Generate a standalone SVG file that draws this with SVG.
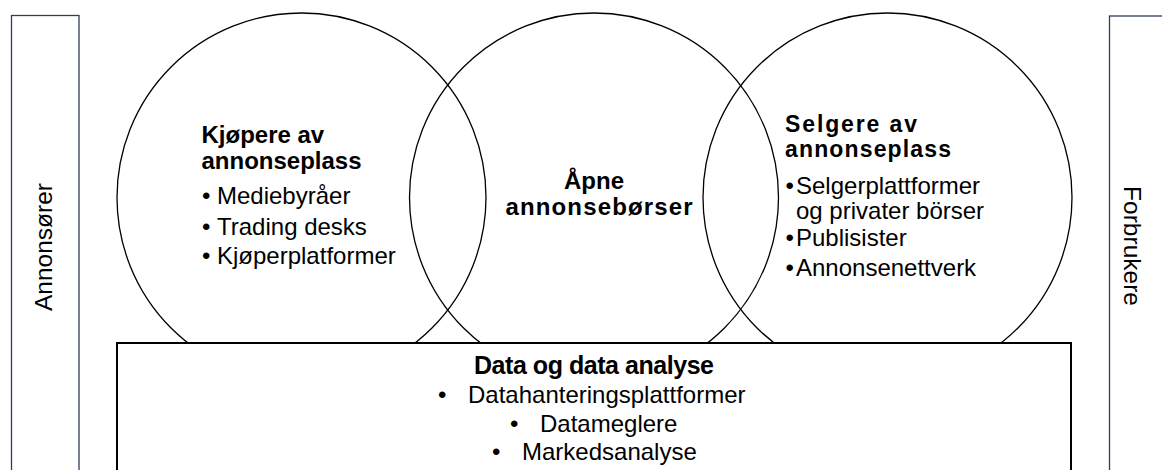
<svg xmlns="http://www.w3.org/2000/svg" width="1162" height="470" viewBox="0 0 1162 470">
<style>
text{font-family:"Liberation Sans",Arial,sans-serif;fill:#000}
.side{fill:#fff;stroke:#2f3d5c;stroke-width:1.3}
.circ{fill:none;stroke:#000;stroke-width:1.3}
.box{fill:#fff;stroke:#000;stroke-width:2}
.t{font-weight:bold;font-size:24px}
.r{font-weight:bold;font-size:23px}
.i{font-size:24px}
.s{font-size:24.5px}
</style>
<rect width="1162" height="470" fill="#fff"/>
<g id="annonsorer">
<rect class="side" x="11.5" y="15.5" width="67.5" height="470"/>
<text class="s" text-anchor="middle" transform="translate(52,247) rotate(-90)">Annonsører</text>
</g>
<g id="forbrukere">
<rect class="side" x="1109.5" y="16" width="80" height="470"/>
<text class="s" text-anchor="middle" transform="translate(1124,246) rotate(90)">Forbrukere</text>
</g>
<g id="kjopere">
<circle class="circ" cx="301.5" cy="197.5" r="184.5"/>
<text class="t" x="201.5" y="143">Kjøpere av</text>
<text class="t" x="201.5" y="169">annonseplass</text>
<text class="i" y="204"><tspan x="202">•</tspan><tspan x="217">Mediebyråer</tspan></text>
<text class="i" y="235"><tspan x="202">•</tspan><tspan x="217">Trading desks</tspan></text>
<text class="i" y="264"><tspan x="202">•</tspan><tspan x="217">Kjøperplatformer</tspan></text>
</g>
<g id="apne">
<circle class="circ" cx="594" cy="197.5" r="184.5"/>
<text class="t" x="594" y="189" text-anchor="middle">Åpne</text>
<text class="t" x="599" y="215" text-anchor="middle" textLength="187">annonsebørser</text>
</g>
<g id="selgere">
<circle class="circ" cx="887.5" cy="197.5" r="184.5"/>
<text class="r" x="785" y="132" textLength="132">Selgere av</text>
<text class="r" x="785" y="157" textLength="166">annonseplass</text>
<text class="i" y="194"><tspan x="785.5">•</tspan><tspan x="796">Selgerplattformer</tspan></text>
<text class="i" x="796" y="219">og privater börser</text>
<text class="i" y="246"><tspan x="785.5">•</tspan><tspan x="796">Publisister</tspan></text>
<text class="i" y="276"><tspan x="785.5">•</tspan><tspan x="796">Annonsenettverk</tspan></text>
</g>
<g id="data">
<rect class="box" x="117" y="343" width="954" height="140"/>
<text x="594" y="374" text-anchor="middle" font-weight="bold" font-size="25" textLength="240">Data og data analyse</text>
<text class="i" y="403"><tspan x="438">•</tspan><tspan x="468">Datahanteringsplattformer</tspan></text>
<text class="i" y="432"><tspan x="510">•</tspan><tspan x="540">Datameglere</tspan></text>
<text class="i" y="460"><tspan x="492">•</tspan><tspan x="522">Markedsanalyse</tspan></text>
</g>
<g id="connectors"/>
</svg>
